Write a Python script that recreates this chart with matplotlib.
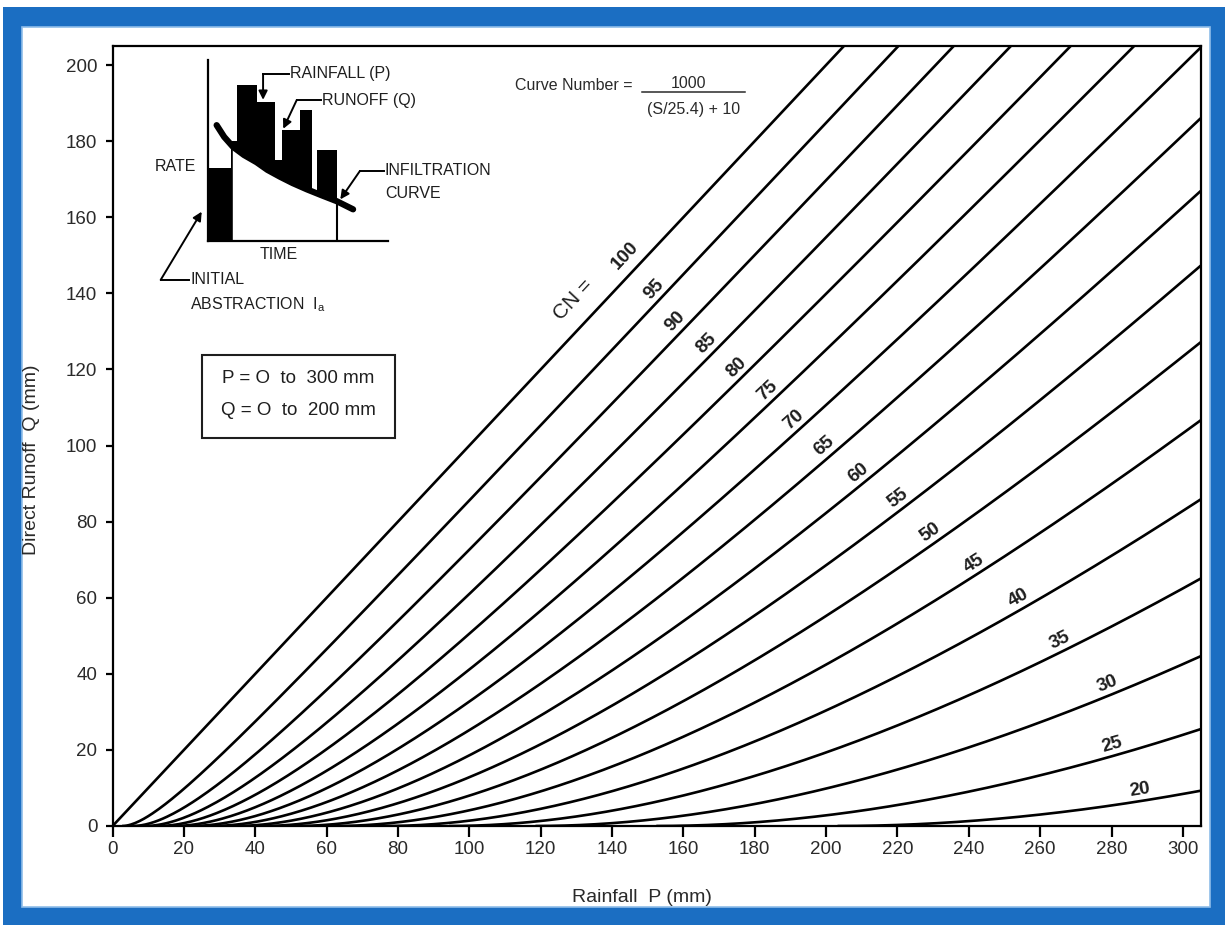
import numpy as np
import matplotlib.pyplot as plt
from matplotlib.patches import Rectangle

plt.rcParams['font.family'] = ['Liberation Sans', 'DejaVu Sans']
plt.rcParams['mathtext.fontset'] = 'custom'
plt.rcParams['mathtext.rm'] = 'Liberation Sans'

# curve numbers drawn, and the rainfall (mm) at which each one is labelled
curve_numbers = [100, 95, 90, 85, 80, 75, 70, 65, 60, 55, 50, 45, 40, 35, 30, 25, 20]
label_rainfall = [147, 154, 160, 168.7, 177, 185.7, 193, 201.6, 211, 222, 231, 243,
                  255.5, 267, 280, 281, 288.5]
ia_ratio = 0.2  # initial abstraction Ia = 0.2 S

x_ticks = list(range(0, 301, 20))
y_ticks = list(range(0, 201, 20))

# schematic storm for the small rate/time sketch
bar_edges = [0, 13, 16.1, 27.2, 37.2, 40.9, 51.1, 57.6, 60.4, 71.5]
bar_rates = [40.3, 55, 86.2, 76.8, 44.8, 61.3, 72.4, 24.5, 50.3]
infil_time = [4.8, 9, 13.9, 20, 27, 33, 40, 47, 55, 63, 71.5, 80.6]
infil_rate = [64, 57.5, 52, 47.5, 43.5, 39.3, 35.5, 32, 28.5, 25.3, 22, 17.5]

ink = '#1e1e1e'
blue = '#1b6ec2'

fig = plt.figure(figsize=(12.25, 9.25), dpi=100)
W, H = 1225.0, 925.0

# blue frame around the page
fig.patches.append(Rectangle((3 / W, 0), 1 - 3 / W, 1 - 7 / H, transform=fig.transFigure,
                             facecolor=blue, edgecolor='none', zorder=-2))
fig.patches.append(Rectangle((22 / W, 18 / H), 1188 / W, 880 / H, transform=fig.transFigure,
                             facecolor='white', edgecolor='#8fbde9', lw=1.2, zorder=-1))

ax = fig.add_axes([112.6 / W, 99 / H, 1088.1 / W, 780 / H])
ax.set_xlim(0, 305)
ax.set_ylim(0, 205)
ax.set_xticks(x_ticks)
ax.set_yticks(y_ticks)
for sp in ax.spines.values():
    sp.set_linewidth(1.6)
ax.tick_params(axis='x', direction='out', length=8, width=1.6, pad=3, labelsize=13.5,
               labelcolor='#2a2a2a')
ax.tick_params(axis='y', direction='out', length=5, width=1.6, pad=6, labelsize=13.5,
               labelcolor='#2a2a2a')


def runoff(p, cn):
    s = 25400.0 / cn - 254.0
    ia = ia_ratio * s
    num = np.clip(p - ia, 0, None) ** 2
    den = p - ia + s
    return np.where(den > 0, num / np.maximum(den, 1e-9), 0.0), ia


for cn in curve_numbers:
    s = 25400.0 / cn - 254.0
    p = np.linspace(ia_ratio * s, 305, 500)
    q, _ = runoff(p, cn)
    ax.plot(p, q, color='black', lw=1.9, solid_capstyle='butt')


def label_on_curve(text, cn, p, off_px, size=13.5, weight='bold'):
    q, _ = runoff(np.array([p, p + 0.5]), cn)
    x0, y0 = ax.transData.transform((p, q[0]))
    x1, y1 = ax.transData.transform((p + 0.5, q[1]))
    ang = np.arctan2(y1 - y0, x1 - x0)
    dx, dy = -np.sin(ang) * off_px * 0.72, np.cos(ang) * off_px * 0.72
    ax.annotate(text, (p, q[0]), xytext=(dx, dy), textcoords='offset points',
                rotation=np.degrees(ang), rotation_mode='anchor', ha='center', va='center',
                fontsize=size, fontweight=weight, color=ink)


for cn, p in zip(curve_numbers, label_rainfall):
    label_on_curve(str(cn), cn, p, 16 if cn == 100 else 11)
label_on_curve('CN =', 100, 134, 24, size=15, weight='normal')

# formula for the curve number
ax.text(112.8, 194.7, 'Curve Number =', va='center', fontsize=11.5, color='#2a2a2a')
ax.plot([148.4, 177.3], [192.9, 192.9], color='#2a2a2a', lw=1.1)
ax.text(161.5, 193.2, '1000', ha='center', va='bottom', fontsize=11.5, color='#2a2a2a')
ax.text(162.9, 188.3, '(S/25.4) + 10', ha='center', va='center', fontsize=11.5,
        color='#2a2a2a')

# range box
ax.add_patch(Rectangle((25, 102), 54.1, 21.8, fill=False, lw=1.5, edgecolor=ink))
ax.text(52, 117.5, 'P = O  to  300 mm', ha='center', va='center', fontsize=13.5, color=ink)
ax.text(52, 109.3, 'Q = O  to  200 mm', ha='center', va='center', fontsize=13.5, color=ink)

fig.text(642 / W, 1 - 897 / H, 'Rainfall  P (mm)', ha='center', va='center',
         fontsize=14, color='#2a2a2a')
fig.text(32 / W, 1 - 460 / H, 'Direct Runoff  Q (mm)', ha='center', va='center',
         rotation=90, fontsize=14, color='#2a2a2a')

# rate / time sketch
ins = fig.add_axes([208 / W, (H - 241) / H, 180 / W, 181 / H])
ins.set_xlim(0, 100)
ins.set_ylim(0, 100)
ins.axis('off')
ins.bar(bar_edges[:-1], bar_rates, width=np.diff(bar_edges), align='edge',
        color='black', linewidth=0, zorder=2)
tt = np.linspace(13.5, bar_edges[-1], 200)
ins.fill_between(tt, 0, np.interp(tt, infil_time, infil_rate), color='white', lw=0, zorder=3)
ins.plot([bar_edges[-1]] * 2, [0, np.interp(bar_edges[-1], infil_time, infil_rate)],
         color='black', lw=1.5, zorder=4)
ins.plot(infil_time, infil_rate, color='black', lw=4.5, solid_capstyle='round', zorder=5)
ins.plot([0, 0], [0, 100], color='black', lw=1.6, clip_on=False, zorder=6)
ins.plot([0, 100], [0, 0], color='black', lw=1.6, clip_on=False, zorder=6)

arrow = dict(arrowstyle='-|>', color='black', lw=1.4, mutation_scale=13, shrinkA=0, shrinkB=0)


def leader(pts):
    xs, ys = zip(*pts[:-1])
    ins.plot(xs, ys, color='black', lw=1.4, clip_on=False, zorder=7)
    ins.annotate('', xy=pts[-1], xytext=pts[-2], arrowprops=arrow, annotation_clip=False)


txt = dict(fontsize=11.5, color=ink, va='center', clip_on=False)
ins.text(45.6, 92.3, 'RAINFALL (P)', **txt)
leader([(45, 92.3), (30.6, 92.3), (30.6, 78)])
ins.text(63.3, 77.9, 'RUNOFF (Q)', **txt)
leader([(62.5, 77.9), (49.3, 77.9), (41.8, 62)])
ins.text(98.3, 38.7, 'INFILTRATION', **txt)
ins.text(98.3, 26, 'CURVE', **txt)
leader([(97.5, 38.7), (84.4, 38.7), (73.5, 23)])
ins.text(-10, -21.5, 'INITIAL', **txt)
ins.text(-10, -35.4, r'ABSTRACTION  $\mathregular{I_a}$', **txt)
leader([(-10.5, -21.5), (-26.3, -21.5), (-3.5, 16.2)])
ins.text(-18.3, 41, 'RATE', ha='center', fontsize=11.5, color=ink, va='center')
ins.text(39.4, -7.7, 'TIME', ha='center', fontsize=11.5, color=ink, va='center')

fig.savefig('out.png', dpi=100)
